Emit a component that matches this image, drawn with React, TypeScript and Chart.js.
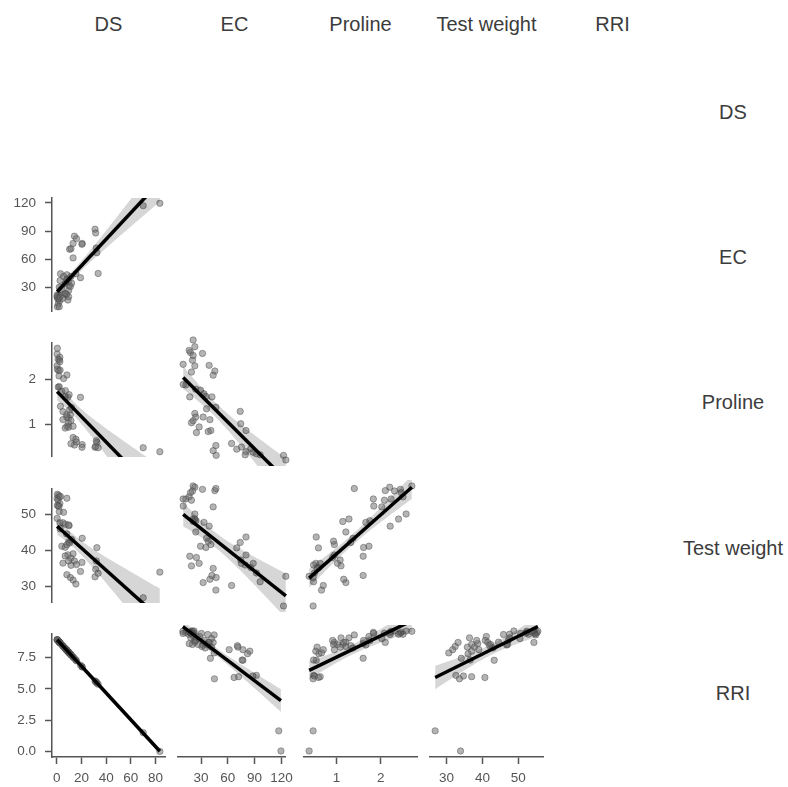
import React, { useEffect, useRef } from "react";
import { Chart, registerables } from "chart.js";
Chart.register(...registerables);

// ---------- data (one entry per observation) ----------
const VARIABLES = ["DS", "EC", "Proline", "Test weight", "RRI"];

const DS = [
  0.5, 1.5, 2.0, 0.3, 1.0, 8.2, 3.0, 2.5, 1.2, 0.5,
  1.8, 2.0, 5.5, 0.3, 2.5, 2.7, 7.0, 10.0, 4.1, 9.0,
  6.8, 5.0, 9.6, 8.0, 9.6, 5.0, 8.2, 9.6, 11.0, 8.2,
  12.0, 6.8, 10.4, 11.5, 13.2, 13.2, 14.3, 16.0, 20.6, 20.4,
  19.2, 15.5, 11.5, 31.0, 31.5, 32.0, 32.5, 33.5, 70.0, 83.5,
];
const EC = [
  20.4, 22.2, 30.4, 19.7, 17.5, 43.6, 44.7, 16.1, 12.5, 9.7,
  18.6, 9.8, 41.8, 22.2, 20.4, 37.5, 23.2, 32.0, 28.3, 16.8,
  34.0, 22.2, 20.4, 23.2, 26.8, 18.6, 39.3, 36.5, 31.1, 38.3,
  34.7, 23.9, 70.7, 71.3, 61.5, 76.9, 84.6, 82.0, 76.9, 76.0,
  40.5, 44.7, 41.8, 92.0, 88.0, 72.0, 67.0, 45.0, 117.0, 119.5,
];
const PROLINE = [
  2.70, 2.20, 2.44, 2.31, 2.46, 2.10, 1.40, 2.50, 1.83, 2.23,
  2.08, 1.84, 2.02, 2.57, 2.40, 2.21, 1.75, 1.66, 1.73, 1.60,
  1.61, 1.28, 1.14, 1.21, 1.02, 1.10, 0.95, 0.93, 1.21, 1.16,
  1.37, 0.91, 1.32, 1.08, 0.70, 0.95, 0.53, 0.60, 0.54, 0.48,
  1.60, 0.66, 0.56, 0.48, 0.50, 0.63, 0.59, 0.47, 0.47, 0.38,
];
const TEST_WEIGHT = [
  55.5, 55.2, 54.7, 54.3, 53.9, 54.4, 54.9, 52.9, 52.4, 52.4,
  52.1, 50.7, 50.5, 48.8, 47.6, 45.9, 47.2, 46.8, 41.1, 38.7,
  40.8, 47.6, 47.0, 44.5, 37.0, 36.4, 41.5, 42.3, 32.4, 33.2,
  43.0, 38.4, 42.0, 37.8, 31.7, 39.0, 37.0, 36.0, 43.3, 36.6,
  34.1, 30.6, 35.8, 32.6, 34.7, 37.0, 40.7, 33.6, 26.8, 33.9,
];
const RRI = [
  8.91, 8.80, 8.75, 8.93, 8.85, 8.08, 8.64, 8.69, 8.83, 8.91,
  8.77, 8.75, 8.37, 8.93, 8.69, 8.67, 8.21, 7.89, 8.52, 7.99,
  8.23, 8.42, 7.93, 8.10, 7.93, 8.42, 8.08, 7.93, 7.78, 8.08,
  7.67, 8.23, 7.84, 7.73, 7.54, 7.54, 7.43, 7.24, 6.75, 6.77,
  6.90, 7.30, 7.73, 5.63, 5.58, 5.53, 5.47, 5.37, 1.50, 0.00,
];

const DS_TICKS = [0, 20, 40, 60, 80];
const EC_TICKS = [30, 60, 90, 120];
const PROLINE_TICKS = [1, 2];
const TW_TICKS = [30, 40, 50];
const RRI_TICKS = [0, 2.5, 5, 7.5];

const SERIES = [DS, EC, PROLINE, TEST_WEIGHT, RRI];
const TICKS = [DS_TICKS, EC_TICKS, PROLINE_TICKS, TW_TICKS, RRI_TICKS];
const DECIMALS = [0, 0, 0, 0, 1];

// ---------- layout ----------
const COL_LEFT = [52, 178, 304, 430, 556];
const ROW_TOP = [44, 189, 334, 480, 625];
const PW = 113;
const PH = 132;
const PAD = 8;
const Y_AXIS_W = 48;
const X_AXIS_H = 32;
const FONT = "'Liberation Sans', Arial, Helvetica, sans-serif";
const AXIS_COLOR = "#555555";

function range(vals: number[]) {
  const lo = Math.min(...vals);
  const hi = Math.max(...vals);
  const p = (hi - lo) * 0.05;
  return [lo - p, hi + p];
}

function regression(xs: number[], ys: number[]) {
  const n = xs.length;
  const mx = xs.reduce((a, b) => a + b, 0) / n;
  const my = ys.reduce((a, b) => a + b, 0) / n;
  let sxx = 0;
  let sxy = 0;
  for (let i = 0; i < n; i++) {
    sxx += (xs[i] - mx) ** 2;
    sxy += (xs[i] - mx) * (ys[i] - my);
  }
  const b = sxy / sxx;
  const a = my - b * mx;
  let sse = 0;
  for (let i = 0; i < n; i++) sse += (ys[i] - a - b * xs[i]) ** 2;
  const s = Math.sqrt(sse / (n - 2));
  const t = 2.01;
  const half = (x: number) => t * s * Math.sqrt(1 / n + (x - mx) ** 2 / sxx);
  return { a, b, half };
}

function scaleOpts(idx: number, show: boolean, horizontal: boolean) {
  const [min, max] = range(SERIES[idx]);
  const tickVals = TICKS[idx];
  const dec = DECIMALS[idx];
  return {
    type: "linear" as const,
    display: show,
    min,
    max,
    afterBuildTicks: (s: any) => {
      s.ticks = tickVals.map((v) => ({ value: v }));
    },
    afterFit: (s: any) => {
      if (!show) {
        if (horizontal) s.height = 0;
        else s.width = 0;
        return;
      }
      if (horizontal) s.height = X_AXIS_H;
      else s.width = Y_AXIS_W;
    },
    grid: {
      display: true,
      drawOnChartArea: false,
      drawTicks: true,
      tickLength: 7,
      tickWidth: 1.5,
      tickColor: AXIS_COLOR,
    },
    border: { display: true, color: AXIS_COLOR, width: 1.5 },
    ticks: {
      color: "#555555",
      font: { family: FONT, size: 13.5 },
      padding: horizontal ? 6 : 9,
      maxRotation: 0,
      autoSkip: false,
      callback: (v: any) => Number(v).toFixed(dec),
    },
  };
}

function Panel({ xi, yi }: { xi: number; yi: number }) {
  const ref = useRef<HTMLCanvasElement | null>(null);
  const showY = xi === 0;
  const showX = yi === 4;
  const padL = showY ? Y_AXIS_W : PAD;
  const padB = showX ? X_AXIS_H : PAD;
  const w = PW + padL + PAD;
  const h = PH + PAD + padB;

  useEffect(() => {
    if (!ref.current) return;
    const xs = SERIES[xi];
    const ys = SERIES[yi];
    const fit = regression(xs, ys);
    const x0 = Math.min(...xs);
    const x1 = Math.max(...xs);
    const upper: { x: number; y: number }[] = [];
    const lower: { x: number; y: number }[] = [];
    const steps = 80;
    for (let k = 0; k <= steps; k++) {
      const x = x0 + ((x1 - x0) * k) / steps;
      const yhat = fit.a + fit.b * x;
      const hw = fit.half(x);
      upper.push({ x, y: yhat + hw });
      lower.push({ x, y: yhat - hw });
    }
    const pts = xs.map((x, i) => ({ x, y: ys[i] }));

    const chart = new Chart(ref.current, {
      type: "scatter",
      data: {
        datasets: [
          {
            type: "line",
            data: [
              { x: x0, y: fit.a + fit.b * x0 },
              { x: x1, y: fit.a + fit.b * x1 },
            ],
            borderColor: "#000000",
            borderWidth: 3.5,
            pointRadius: 0,
            fill: false,
            order: 0,
          } as any,
          {
            type: "line",
            data: upper,
            borderWidth: 0,
            borderColor: "rgba(0,0,0,0)",
            pointRadius: 0,
            fill: "+1",
            backgroundColor: "rgba(0,0,0,0.16)",
            order: 1,
          } as any,
          {
            type: "line",
            data: lower,
            borderWidth: 0,
            borderColor: "rgba(0,0,0,0)",
            pointRadius: 0,
            fill: false,
            order: 1,
          } as any,
          {
            type: "scatter",
            data: pts,
            pointRadius: 3.2,
            pointBorderWidth: 0.8,
            backgroundColor: "rgba(105,105,105,0.5)",
            borderColor: "rgba(70,70,70,0.55)",
            order: 2,
          } as any,
        ],
      },
      options: {
        responsive: false,
        animation: false,
        events: [],
        layout: {
          padding: {
            left: showY ? 0 : PAD,
            right: PAD,
            top: PAD,
            bottom: showX ? 0 : PAD,
          },
        },
        plugins: {
          legend: { display: false },
          tooltip: { enabled: false },
        },
        elements: { line: { tension: 0 } },
        scales: {
          x: scaleOpts(xi, showX, true),
          y: scaleOpts(yi, showY, false),
        },
      } as any,
    });
    return () => chart.destroy();
  }, [xi, yi]);

  return (
    <canvas
      ref={ref}
      width={w}
      height={h}
      style={{
        position: "absolute",
        left: COL_LEFT[xi] - padL,
        top: ROW_TOP[yi] - PAD,
        width: w,
        height: h,
      }}
    />
  );
}

export default function App() {
  const panels: { xi: number; yi: number }[] = [];
  for (let yi = 1; yi < 5; yi++) {
    for (let xi = 0; xi < yi; xi++) panels.push({ xi, yi });
  }
  const labelStyle: React.CSSProperties = {
    position: "absolute",
    fontFamily: FONT,
    fontSize: 20,
    color: "#3c3c3c",
    whiteSpace: "nowrap",
    transform: "translate(-50%, -50%)",
    lineHeight: "24px",
  };
  return (
    <div
      style={{
        position: "absolute",
        left: 0,
        top: 0,
        width: 788,
        height: 787,
        overflow: "hidden",
        background: "#ffffff",
      }}
    >
      {VARIABLES.map((v, i) => (
        <div key={"h" + v} style={{ ...labelStyle, left: COL_LEFT[i] + PW / 2, top: 24 }}>
          {v}
        </div>
      ))}
      {VARIABLES.map((v, i) => (
        <div key={"r" + v} style={{ ...labelStyle, left: 733, top: ROW_TOP[i] + PH / 2 + 2 }}>
          {v}
        </div>
      ))}
      {panels.map((p) => (
        <Panel key={p.xi + "-" + p.yi} xi={p.xi} yi={p.yi} />
      ))}
    </div>
  );
}
